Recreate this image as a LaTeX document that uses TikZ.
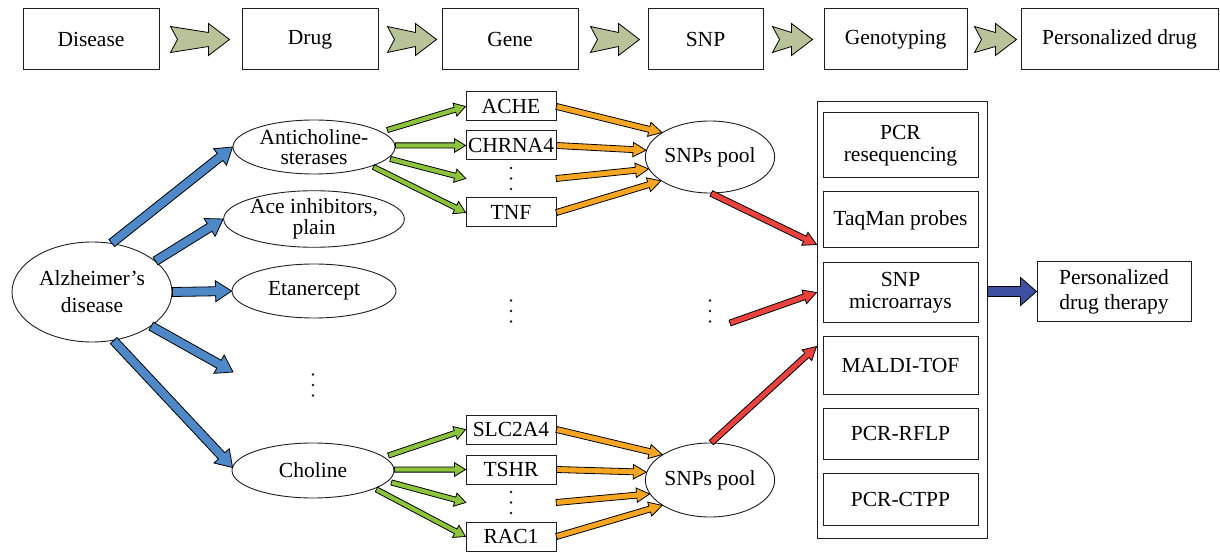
\documentclass[tikz,border=0pt]{standalone}
\usepackage{fontspec}
\setmainfont{Liberation Serif}
\usetikzlibrary{shapes.geometric,calc}
\definecolor{arrblue}{RGB}{79,136,198}
\definecolor{arrgreen}{RGB}{141,196,62}
\definecolor{arrorange}{RGB}{246,166,35}
\definecolor{arrred}{RGB}{234,66,62}
\definecolor{arrnavy}{RGB}{62,80,160}
\definecolor{arrkhaki}{RGB}{184,195,153}
\definecolor{edgecol}{RGB}{30,30,30}

\newcommand\fatarrow[6]{%
  \coordinate (fa-s) at (#5);
  \coordinate (fa-e) at (#6);
  \coordinate (fa-b) at ($(fa-e)!#4!(fa-s)$);
  \draw[arrowline, fill=#1]
    ($(fa-s)!#2!90:(fa-e)$) -- ($(fa-b)!#2!90:(fa-e)$) -- ($(fa-b)!#3!90:(fa-e)$)
    -- (fa-e) -- ($(fa-b)!#3!-90:(fa-e)$) -- ($(fa-b)!#2!-90:(fa-e)$)
    -- ($(fa-s)!#2!-90:(fa-e)$) -- cycle;}
\newcommand\bluearrow[2]{\fatarrow{arrblue}{4.5pt}{10.5pt}{16pt}{#1}{#2}}
\newcommand\greenarrow[2]{\fatarrow{arrgreen}{2.6pt}{6.8pt}{11pt}{#1}{#2}}
\newcommand\orangearrow[2]{\fatarrow{arrorange}{3pt}{7.2pt}{13pt}{#1}{#2}}
\newcommand\redarrow[2]{\fatarrow{arrred}{3pt}{7.2pt}{13pt}{#1}{#2}}
\newcommand\navyarrow[2]{\fatarrow{arrnavy}{5pt}{14pt}{16pt}{#1}{#2}}
\newcommand\notcharrow[2]{%
  \coordinate (na-s) at (#1);
  \coordinate (na-e) at (#2);
  \draw[arrowline, fill=arrkhaki] ($(na-s)+(0,-13)$) -- ($(na-e)+(-21,-7)$)
    -- ($(na-e)+(-21,-16)$) -- (na-e) -- ($(na-e)+(-21,16)$) -- ($(na-e)+(-21,7)$)
    -- ($(na-s)+(0,13)$) -- ($(na-s)+(7,0)$) -- cycle;}
\newcommand\threedots[1]{%
  \foreach \dy in {-10.5,0,10.5} {\fill[dotfill] ($(#1.center)+(0,\dy)$) circle (1.35pt);}}

\tikzset{
  arrowline/.style={draw=black, line width=0.8pt, line join=miter},
  dotfill/.style={fill=black!90},
  basefont/.style={font=\fontsize{21.5}{24}\selectfont},
  topbox/.style={draw=edgecol, line width=1pt, minimum height=61pt, inner sep=0pt, basefont},
  ell/.style={ellipse, draw=edgecol, line width=0.9pt, inner sep=0pt, align=center},
  genebox/.style={draw=edgecol, line width=1pt, minimum width=90pt, minimum height=29pt, inner sep=0pt, basefont},
  dotsnode/.style={minimum width=90pt, minimum height=24pt, inner sep=0pt},
  pool/.style={ellipse, draw=edgecol, line width=0.9pt, minimum width=122pt, inner sep=0pt, basefont},
  method/.style={draw=edgecol, line width=1pt, minimum width=155pt, inner sep=0pt, align=center},
  container/.style={draw=edgecol, line width=1pt, inner sep=0pt},
}

\begin{document}
\begin{tikzpicture}[x=1pt, y=-1pt]
\useasboundingbox (0,0) rectangle (1220,553);

% top row
\node[topbox, minimum width=136pt] (t1) at (91,39.5) {Disease};
\node[topbox, minimum width=136pt] (t2) at (310,39.5) {Drug};
\node[topbox, minimum width=136pt] (t3) at (510,39.5) {Gene};
\node[topbox, minimum width=115pt] (t4) at (705.5,39.5) {SNP};
\node[topbox, minimum width=143pt] (t5) at (895.5,39.5) {Genotyping};
\node[topbox, minimum width=197pt] (t6) at (1119.5,39.5) {Personalized drug};

\notcharrow{$(t1.east)+(11,0)$}{$(t2.west)+(-12,0)$}
\notcharrow{$(t2.east)+(9,0)$}{$(t3.west)+(-5,0)$}
\notcharrow{$(t3.east)+(12,0)$}{$(t4.west)+(-8,0)$}
\notcharrow{$(t4.east)+(9,0)$}{$(t5.west)+(-11,0)$}
\notcharrow{$(t5.east)+(7,0)$}{$(t6.west)+(-4,0)$}

% disease and drugs
\node[ell, minimum width=160pt, minimum height=100pt, font=\fontsize{21.5}{27}\selectfont] (alz) at (92,292) {Alzheimer’s\\disease};
\node[ell, minimum width=162pt, minimum height=54pt, font=\fontsize{21.5}{20}\selectfont] (anti) at (314,147) {Anticholine-\\sterases};
\node[ell, minimum width=162pt, minimum height=54pt, font=\fontsize{21.5}{20.5}\selectfont] (ace) at (314,219) {Ace inhibitors,\\plain};
\node[ell, minimum width=164pt, minimum height=54pt, basefont] (etan) at (314,291) {Etanercept};
\node[dotsnode] (ddots) at (313,385) {};
\node[ell, minimum width=162pt, minimum height=55pt, basefont] (cho) at (313,470.5) {Choline};

% genes
\node[genebox] (ache) at (511,106.5) {ACHE};
\node[genebox] (chrna) at (511,145.5) {CHRNA4};
\node[dotsnode] (gdots1) at (511,178.5) {};
\node[genebox] (tnf) at (511,212.5) {TNF};
\node[dotsnode] (gdotsm) at (511,311) {};
\node[genebox] (slc) at (511,429.5) {SLC2A4};
\node[genebox] (tshr) at (511,469.5) {TSHR};
\node[dotsnode] (gdots2) at (511,502.5) {};
\node[genebox] (rac) at (511,536.5) {RAC1};

% SNP pools
\node[pool, minimum height=72pt] (pool1) at (710,157) {SNPs pool};
\node[dotsnode, minimum width=10pt] (pdots) at (710,311) {};
\node[pool, minimum height=74pt] (pool2) at (710,480) {SNPs pool};

\threedots{ddots}
\threedots{gdots1}
\threedots{gdotsm}
\threedots{gdots2}
\threedots{pdots}

% genotyping methods
\node[container, minimum width=170pt, minimum height=436pt] (cont) at (902,320) {};
\node[method, minimum height=65pt, font=\fontsize{21.5}{22.5}\selectfont] (m1) at (900.5,145.5) {PCR\\resequencing};
\node[method, minimum height=56pt, basefont] (m2) at (900.5,220) {TaqMan probes};
\node[method, minimum height=59pt, font=\fontsize{21.5}{22.5}\selectfont] (m3) at (900.5,292.5) {SNP\\microarrays};
\node[method, minimum height=58pt, basefont] (m4) at (900.5,365) {MALDI-TOF};
\node[method, minimum height=51pt, basefont] (m5) at (900.5,433.5) {PCR-RFLP};
\node[method, minimum height=52pt, basefont] (m6) at (900.5,499) {PCR-CTPP};

\node[draw=edgecol, line width=1pt, minimum width=154pt, minimum height=59pt, inner sep=0pt, align=center, font=\fontsize{21.5}{25}\selectfont] (ther) at (1114,291.5) {Personalized\\drug therapy};

% blue arrows
\bluearrow{alz.68}{anti.west}
\bluearrow{alz.26}{ace.west}
\bluearrow{alz.east}{etan.west}
\bluearrow{alz.-30}{$(ddots.center)+(-80,-13)$}
\bluearrow{alz.-66}{$(cho.west)+(1,-3)$}

% green arrows top
\greenarrow{$(anti.east)+(-8,-17)$}{ache.west}
\greenarrow{anti.east |- chrna.west}{chrna.west}
\greenarrow{$(anti.east)+(-5,12)$}{gdots1.west}
\greenarrow{$(anti.east)+(-22,20)$}{tnf.west}
% green arrows bottom
\greenarrow{$(cho.east)+(-6,-15)$}{slc.west}
\greenarrow{cho.east |- tshr.west}{tshr.west}
\greenarrow{$(cho.east)+(-3,12)$}{gdots2.west}
\greenarrow{$(cho.east)+(-18,19)$}{rac.west}

% orange arrows
\orangearrow{ache.east}{pool1.153}
\orangearrow{chrna.east}{pool1.174}
\orangearrow{gdots1.east}{pool1.191}
\orangearrow{tnf.east}{pool1.206}
\orangearrow{slc.east}{pool2.152}
\orangearrow{tshr.east}{pool2.173}
\orangearrow{gdots2.east}{pool2.193}
\orangearrow{rac.east}{pool2.208}

% red arrows
\redarrow{pool1.-88}{$(cont.north west)+(0,143)$}
\redarrow{$(pdots.center)+(20,12)$}{$(cont.north west)+(0,191)$}
\redarrow{pool2.88}{$(cont.north west)+(0,245)$}

% result
\navyarrow{cont.east |- ther.west}{ther.west}
\end{tikzpicture}
\end{document}
